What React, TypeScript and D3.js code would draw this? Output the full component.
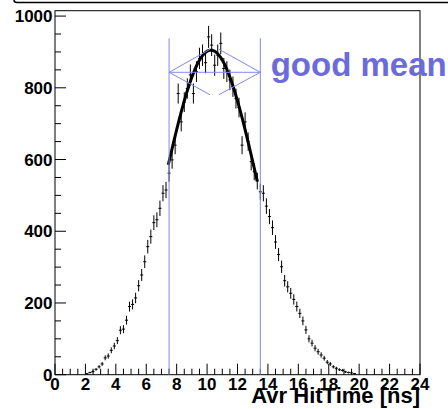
import React from "react";
import * as d3 from "d3";

const binCenters = [
  2.1, 2.3, 2.5, 2.7, 2.9, 3.1, 3.3, 3.5, 3.7, 3.9,
  4.1, 4.3, 4.5, 4.7, 4.9, 5.1, 5.3, 5.5, 5.7, 5.9,
  6.1, 6.3, 6.5, 6.7, 6.9, 7.1, 7.3, 7.5, 7.7, 7.9,
  8.1, 8.3, 8.5, 8.7, 8.9, 9.1, 9.3, 9.5, 9.7, 9.9,
  10.1, 10.3, 10.5, 10.7, 10.9, 11.1, 11.3, 11.5, 11.7, 11.9,
  12.1, 12.3, 12.5, 12.7, 12.9, 13.1, 13.3, 13.5, 13.7, 13.9,
  14.1, 14.3, 14.5, 14.7, 14.9, 15.1, 15.3, 15.5, 15.7, 15.9,
  16.1, 16.3, 16.5, 16.7, 16.9, 17.1, 17.3, 17.5, 17.7, 17.9,
  18.1, 18.3, 18.5, 18.7, 18.9, 19.1, 19.3, 19.5, 19.7,
];
const binCounts = [
  3, 6, 9, 15, 22, 30, 47, 52, 68, 80,
  95, 124, 127, 152, 190, 196, 214, 248, 278, 315,
  357, 385, 424, 432, 464, 506, 515, 562, 599, 640,
  784, 705, 760, 798, 836, 784, 845, 882, 891, 870,
  942, 919, 863, 891, 924, 854, 845, 822, 803, 770,
  745, 640, 705, 650, 594, 566, 540, 510, 506, 470,
  441, 410, 370, 335, 301, 262, 245, 227, 210, 190,
  171, 150, 125, 100, 88, 74, 64, 55, 46, 35,
  30, 22, 18, 14, 12, 8, 6, 5, 3,
];
const binHalfWidth = 0.1;

const fitConstant = 905;
const fitMean = 10.25;
const fitSigma = 3.0;
const fitRange = [7.45, 13.3];

const meanLines = [7.5, 13.5];
const labelText = "good mean";

const xTickLabels = ["0", "2", "4", "6", "8", "10", "12", "14", "16", "18", "20", "22", "24"];
const yTickLabels = ["0", "200", "400", "600", "800", "1000"];
const xTitle = "Avr HitTime [ns]";

const W = 448;
const H = 409;
const L = 55, R = 420, T = 10.7, B = 374.7;
const FONT = "'Liberation Sans', Arial, Helvetica, sans-serif";
const BLUE_LINE = "#8686f2";
const BLUE_TEXT = "#6b6bdc";

export default function App() {
  const x = d3.scaleLinear().domain([0, 24]).range([L, R]);
  const y = d3.scaleLinear().domain([0, 1015]).range([B, T]);

  const xMinor = d3.range(0, 24.001, 0.5);
  const yMinor = d3.range(0, 1015, 50);

  const fitXs = d3.range(fitRange[0], fitRange[1] + 1e-9, 0.05);
  const gauss = (v: number) => fitConstant * Math.exp(-0.5 * ((v - fitMean) / fitSigma) ** 2);
  const fitPath = d3.line<number>().x((v) => x(v)).y((v) => y(gauss(v))).curve(d3.curveLinear)(fitXs) || "";

  const xl = x(meanLines[0]);
  const xr = x(meanLines[1]);
  const ya = 72.3;
  const yTop = 49.3;
  const yBot = 94.7;
  const apexL = 210;
  const apexR = 219;

  return (
    <svg width={W} height={H} style={{ position: "absolute", left: 0, top: 0, background: "#fff" }}>
      <rect x={0} y={0} width={W} height={H} fill="#fff" />
      <path d="M14,-2 L14,0 Q14,2.5 17,2.5 L448,2.5" fill="none" stroke="#000" strokeWidth={1.5} />

      {/* frame */}
      <rect x={L} y={T} width={R - L} height={B - T} fill="none" stroke="#000" strokeWidth={1} />

      {/* x ticks */}
      {xMinor.map((v, i) => {
        const major = Math.abs(v / 2 - Math.round(v / 2)) < 1e-6;
        return (
          <line key={"xt" + i} x1={x(v)} x2={x(v)} y1={B} y2={B - (major ? 11 : 6)} stroke="#000" strokeWidth={1} />
        );
      })}
      {/* y ticks */}
      {yMinor.map((v, i) => {
        const major = v % 200 === 0;
        return (
          <line key={"yt" + i} x1={L} x2={L + (major ? 11 : 6)} y1={y(v)} y2={y(v)} stroke="#000" strokeWidth={1} />
        );
      })}

      {/* x labels */}
      {xTickLabels.map((t, i) => (
        <text key={"xl" + i} x={x(+t)} y={390} textAnchor="middle" fontFamily={FONT} fontWeight="bold" fontSize={17} fill="#000">
          {t}
        </text>
      ))}
      {/* y labels */}
      {yTickLabels.map((t, i) => (
        <text key={"yl" + i} x={52.5} y={y(+t)} dy="0.36em" textAnchor="end" fontFamily={FONT} fontWeight="bold" fontSize={17} fill="#000">
          {t}
        </text>
      ))}
      <text x={R} y={403} textAnchor="end" fontFamily={FONT} fontWeight="bold" fontSize={22} fill="#000">
        {xTitle}
      </text>

      {/* data points with error bars */}
      {binCenters.map((c, i) => {
        const v = binCounts[i];
        const e = Math.sqrt(v);
        return (
          <g key={"p" + i} stroke="#000" strokeWidth={1}>
            <line x1={x(c)} x2={x(c)} y1={y(v - e)} y2={y(v + e)} />
            <line x1={x(c - binHalfWidth)} x2={x(c + binHalfWidth)} y1={y(v)} y2={y(v)} />
          </g>
        );
      })}

      {/* fit */}
      <path d={fitPath} fill="none" stroke="#000" strokeWidth={3} />

      {/* mean lines and arrow */}
      {meanLines.map((m, i) => (
        <line key={"ml" + i} x1={x(m)} x2={x(m)} y1={38.3} y2={B} stroke={BLUE_LINE} strokeWidth={1} />
      ))}
      <g stroke={BLUE_LINE} strokeWidth={1} fill="none">
        <line x1={xl} x2={xr} y1={ya} y2={ya} />
        <line x1={xl} y1={ya} x2={apexL} y2={yTop} />
        <line x1={xl} y1={ya} x2={apexL} y2={yBot} />
        <line x1={xr} y1={ya} x2={apexR} y2={yTop} />
        <line x1={xr} y1={ya} x2={apexR} y2={yBot} />
      </g>
      <text x={270.7} y={76} fontFamily={FONT} fontWeight="bold" fontSize={33} fill={BLUE_TEXT}>
        {labelText}
      </text>
    </svg>
  );
}
